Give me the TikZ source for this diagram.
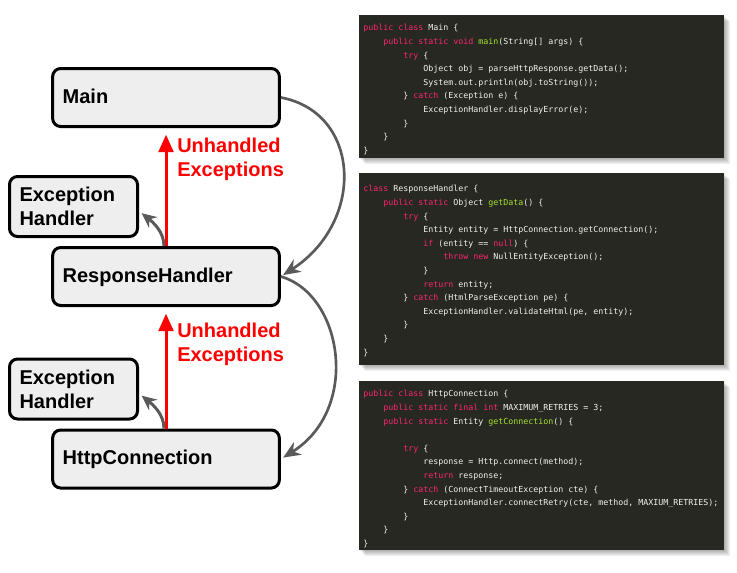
\documentclass[tikz,border=0pt]{standalone}
\usepackage{fontspec}
\setmainfont{Liberation Sans}
\newfontfamily\codefont{DejaVu Sans Mono}
\usetikzlibrary{arrows.meta}

\definecolor{boxgray}{HTML}{EEEEEE}
\definecolor{linkgray}{HTML}{5A5A5A}
\definecolor{codebg}{HTML}{272822}
\definecolor{codetext}{HTML}{F2F2EE}
\definecolor{codekw}{HTML}{F92672}
\definecolor{codefn}{HTML}{A6E22E}

\newcommand\kw[1]{\textcolor{codekw}{#1}}
\newcommand\fn[1]{\textcolor{codefn}{#1}}
\newcommand\ind[1]{\hspace*{#1\dimexpr 2.408em\relax}}

\tikzset{
  box/.style={draw, line width=2.25pt, rounded corners=6pt, fill=boxgray,
    font=\bfseries\fontsize{15}{18}\selectfont, align=left, inner xsep=7.5pt},
  classbox/.style={box, text width=155pt, minimum height=43.5pt, text depth=2pt},
  handlerbox/.style={box, text width=81pt, minimum height=45pt},
  unhandled/.style={draw=red, line width=2.25pt, shorten >=5pt,
    -{Triangle[length=13pt,width=11pt]}},
  handled/.style={draw=linkgray, line width=2.25pt, -{Stealth[length=11pt,width=10pt]}},
  callarrow/.style={draw=linkgray, line width=2pt, shorten >=2pt,
    -{Stealth[length=13pt,width=11pt]}},
  code/.style={text=codetext, font=\codefont\fontsize{6.23}{10.2}\selectfont,
    align=left, inner sep=0pt, anchor=north west},
  redlabel/.style={text=red, font=\bfseries\fontsize{15}{18}\selectfont,
    align=left, inner sep=0pt, anchor=west}
}

\begin{document}
\begin{tikzpicture}[x=0.75pt, y=-0.75pt]

\useasboundingbox (0,0) rectangle (737,572);

% call chain
\node[classbox] (main) at (166,97.5) {Main};
\node[classbox] (resp) at (166,276.5) {ResponseHandler};
\node[classbox] (http) at (166,459) {HttpConnection};

\node[handlerbox] (exh1) at (73.5,206.5) {Exception\\Handler};
\node[handlerbox] (exh2) at (73.5,389) {Exception\\Handler};

\draw[unhandled] (resp.north) -- (main.south);
\draw[unhandled] (http.north) -- (resp.south);

\node[redlabel] (lbl1) at (177,159) {Unhandled\\Exceptions};
\node[redlabel] (lbl2) at (177,344) {Unhandled\\Exceptions};

\draw[handled] ([xshift=-1.5pt]resp.north) .. controls +(0,-15) and +(10,8) .. ([xshift=2pt,yshift=-5pt]exh1.east);
\draw[handled] ([xshift=-1.5pt]http.north) .. controls +(0,-15) and +(10,8) .. ([xshift=2pt,yshift=-5pt]exh2.east);

\draw[callarrow] (main.east) .. controls +(80,15) and +(85,-55) .. (resp.east);
\draw[callarrow] (resp.east) .. controls +(62,18) and +(80,-50) .. (http.east);

% code panels
\foreach \top/\bot in {15/158, 173/365, 381/550} {
    \foreach \s in {1,...,6}
        \fill[black, opacity=0.06] (359+\s,\top+\s) rectangle (724+\s,\bot+\s);
    \fill[codebg] (359,\top) rectangle (724,\bot);
}

\node[code] (mainsrc) at (363,24.2) {%
\kw{public} \kw{class} Main \{\\
\ind{1}\kw{public} \kw{static} \kw{void} \fn{main}(String[] args) \{\\
\ind{2}\kw{try} \{\\
\ind{3}Object obj = parseHttpResponse.getData();\\
\ind{3}System.out.println(obj.toString());\\
\ind{2}\} \kw{catch} (Exception e) \{\\
\ind{3}ExceptionHandler.displayError(e);\\
\ind{2}\}\\
\ind{1}\}\\
\}};

\node[code] (respsrc) at (363,185.2) {%
\kw{class} ResponseHandler \{\\
\ind{1}\kw{public} \kw{static} Object \fn{getData}() \{\\
\ind{2}\kw{try} \{\\
\ind{3}Entity entity = HttpConnection.getConnection();\\
\ind{3}\kw{if} (entity == \kw{null}) \{\\
\ind{4}\kw{throw} \kw{new} NullEntityException();\\
\ind{3}\}\\
\ind{3}\kw{return} entity;\\
\ind{2}\} \kw{catch} (HtmlParseException pe) \{\\
\ind{3}ExceptionHandler.validateHtml(pe, entity);\\
\ind{2}\}\\
\ind{1}\}\\
\}};

\node[code] (httpsrc) at (363,390.2) {%
\kw{public} \kw{class} HttpConnection \{\\
\ind{1}\kw{public} \kw{static} \kw{final} \kw{int} MAXIMUM\_RETRIES = 3;\\
\ind{1}\kw{public} \kw{static} Entity \fn{getConnection}() \{\\
\mbox{}\\
\ind{2}\kw{try} \{\\
\ind{3}response = Http.connect(method);\\
\ind{3}\kw{return} response;\\
\ind{2}\} \kw{catch} (ConnectTimeoutException cte) \{\\
\ind{3}ExceptionHandler.connectRetry(cte, method, MAXIUM\_RETRIES);\\
\ind{2}\}\\
\ind{1}\}\\
\}};

\end{tikzpicture}
\end{document}
